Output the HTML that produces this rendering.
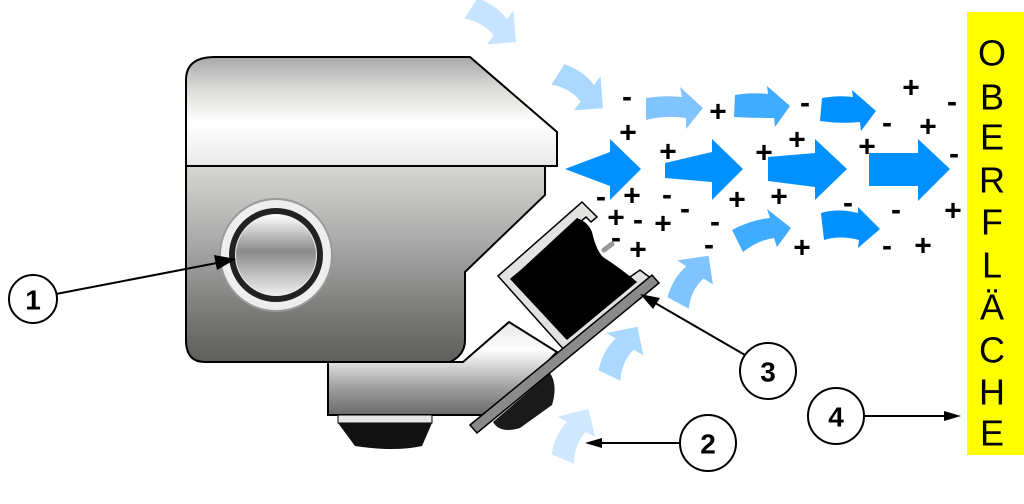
<!DOCTYPE html>
<html><head><meta charset="utf-8"><style>body{margin:0;background:#fff}svg{display:block}</style></head><body>
<svg width="1024" height="504" viewBox="0 0 1024 504" xmlns="http://www.w3.org/2000/svg" font-family="Liberation Sans, sans-serif">
<defs>
<linearGradient id="gt" x1="0" y1="0" x2="0" y2="1">
<stop offset="0" stop-color="#a9a7aa"/><stop offset="0.3" stop-color="#dcdcd8"/><stop offset="0.6" stop-color="#ffffff"/><stop offset="0.85" stop-color="#f2f2f2"/><stop offset="1" stop-color="#e8e8e8"/></linearGradient>
<linearGradient id="gb" x1="0" y1="0" x2="0" y2="1">
<stop offset="0" stop-color="#d6d6d2"/><stop offset="0.4" stop-color="#a8a8a8"/><stop offset="0.75" stop-color="#7a7a78"/><stop offset="1" stop-color="#5e5e5c"/></linearGradient>
<linearGradient id="gl" x1="0" y1="0" x2="0" y2="1">
<stop offset="0" stop-color="#e6e6e6"/><stop offset="0.3" stop-color="#ffffff"/><stop offset="0.7" stop-color="#a0a0a0"/><stop offset="1" stop-color="#6a6a6a"/></linearGradient>
<linearGradient id="gr" x1="0" y1="0" x2="0" y2="1">
<stop offset="0" stop-color="#ffffff"/><stop offset="0.45" stop-color="#8a8a8a"/><stop offset="1" stop-color="#eeeeee"/></linearGradient>
<path id="ca" d="M0,6 Q20,-2 36,2 L35,-9 L58,13 L38,34 L37,23 Q20,20 4,30 Z"/>
</defs>
<!-- top block -->
<path d="M186,80 Q186,57 215,57 L470,57 L557,132 L557,166 L186,166 Z" fill="url(#gt)" stroke="#000" stroke-width="2"/>
<!-- lower body -->
<path d="M186,166 L545,166 L545,195 L465,272 L465,340 Q465,355 450,362 L205,362 Q186,362 186,340 Z" fill="url(#gb)" stroke="#000" stroke-width="2"/>
<!-- ring -->
<circle cx="276" cy="255" r="56" fill="#eee" stroke="#999" stroke-width="2"/>
<circle cx="276" cy="255" r="44" fill="none" stroke="#222" stroke-width="6"/>
<circle cx="276" cy="255" r="40" fill="url(#gr)"/>
<!-- lower piece -->
<path d="M328,362 L463,362 L509,322 L557,352 L495,415 L328,415 Z" fill="url(#gl)" stroke="#000" stroke-width="2"/>
<rect x="338" y="415" width="94" height="8" fill="#e8e8e8" stroke="#000" stroke-width="1"/>
<path d="M338,423 L432,423 L422,446 Q395,452 355,446 Z" fill="#111"/>
<path d="M493,422 L550,373 Q558,385 552,405 L520,428 Q500,434 493,422 Z" fill="#1a1a1a"/>
<!-- frame -->
<path d="M498,276 L582,202 L597,217 L591,222 L586,217 L511,279 L566,338 L634,281 L630,277 L640,270 L652,279 L566,352 Z" fill="#e2e2e0" stroke="#000" stroke-width="1.5"/>
<path d="M511,279 L577,218 Q588,222 592,232 Q596,250 603,257 Q620,268 637,282 L567,340 Z" fill="#000"/>
<path d="M604,250 l8,-6" stroke="#999" stroke-width="5" stroke-linecap="round"/>
<!-- plate -->
<path d="M470,425 L652,275 L659,283 L477,433 Z" fill="#8a8a8a" stroke="#000" stroke-width="1.5"/>
<!-- light curved arrows -->
<use href="#ca" transform="translate(495,22) rotate(42) translate(-29,-12)" fill="#c6e4ff"/>
<use href="#ca" transform="translate(582,88) rotate(42) translate(-29,-12)" fill="#aad8ff"/>
<use href="#ca" transform="translate(690,278) rotate(-52) translate(-29,-12)" fill="#80c4ff"/>
<use href="#ca" transform="translate(620,350) rotate(-55) translate(-29,-12)" fill="#aad8ff"/>
<use href="#ca" transform="translate(572,433) rotate(-58) translate(-29,-12)" fill="#cfe8ff"/>
<!-- top row arrows -->
<path d="M646,98 Q665,95 682,97 L680,87 L703,108 L686,129 L686,118 Q665,115 646,120 Z" fill="#80c4ff"/>
<path d="M735,95 Q752,92 768,94 L767,86 L790,106 L775,127 L774,118 Q755,118 734,117 Z" fill="#40acff"/>
<path d="M822,98 Q838,95 853,97 L852,90 L876,111 L861,131 L860,122 Q840,124 820,121 Z" fill="#0090ff"/>
<!-- main row arrows -->
<path d="M565,169 L610,152 L610,139 L641,169 L610,200 L610,186 Z" fill="#0090ff"/>
<path d="M665,163 L712,152 L712,139 L743,169 L712,200 L712,182 L665,178 Z" fill="#0090ff"/>
<path d="M768,157 L815,153 L815,139 L847,169 L815,200 L815,187 L768,181 Z" fill="#0090ff"/>
<path d="M869,153 L918,153 L918,139 L950,169 L918,201 L918,186 L869,186 Z" fill="#0090ff"/>
<!-- bottom row arrows -->
<path d="M732,230 Q750,220 770,218 L767,209 L791,228 L777,247 L774,238 Q758,240 743,252 Z" fill="#40acff"/>
<path d="M821,213 Q838,208 858,213 L858,207 L880,229 L858,248 L859,240 Q840,235 824,240 Z" fill="#0090ff"/>
<!-- charges -->
<g font-size="30" font-weight="bold" fill="#000" text-anchor="middle" dominant-baseline="central">
<text x="627" y="97">-</text><text x="628" y="133">+</text><text x="668" y="152">+</text><text x="718" y="112">+</text>
<text x="805" y="103">-</text><text x="764" y="153">+</text><text x="797" y="140">+</text><text x="911" y="88">+</text>
<text x="952" y="102">-</text><text x="887" y="123">-</text><text x="928" y="127">+</text><text x="867" y="147">+</text>
<text x="954" y="154">-</text><text x="601" y="197">-</text><text x="632" y="196">+</text><text x="667" y="195">-</text>
<text x="685" y="209">-</text><text x="737" y="200">+</text><text x="779" y="197">+</text><text x="616" y="218">+</text>
<text x="638" y="220">-</text><text x="663" y="224">+</text><text x="715" y="222">-</text><text x="616" y="238">-</text>
<text x="638" y="250">+</text><text x="709" y="245">-</text><text x="802" y="248">+</text><text x="848" y="203">-</text>
<text x="896" y="210">-</text><text x="953" y="211">+</text><text x="887" y="246">-</text><text x="923" y="246">+</text>
</g>
<!-- yellow surface -->
<rect x="967" y="12" width="57" height="443" fill="#ffff00"/>
<g font-size="36" fill="#000" text-anchor="middle" dominant-baseline="central">
<text x="992" y="53">O</text><text x="992" y="97">B</text><text x="992" y="137">E</text><text x="992" y="180">R</text><text x="992" y="222">F</text><text x="992" y="265">L</text><text x="992" y="307">Ä</text><text x="992" y="350">C</text><text x="992" y="392">H</text><text x="992" y="433">E</text>
</g>
<!-- callouts -->
<g stroke="#000" stroke-width="2" fill="#fff">
<line x1="56" y1="294" x2="222" y2="262"/>
<line x1="745" y1="355" x2="650" y2="300"/>
<line x1="680" y1="443" x2="595" y2="443"/>
<line x1="864" y1="416" x2="945" y2="416"/>
<circle cx="33" cy="299" r="24"/><circle cx="768" cy="371" r="28"/><circle cx="708" cy="443" r="28"/><circle cx="836" cy="416" r="28"/>
</g>
<g fill="#000">
<path d="M236,259 L214,255 L217,270 Z"/>
<path d="M640,294 L660,298 L653,309 Z"/>
<path d="M585,443 L602,438 L602,448 Z"/>
<path d="M961,416 L944,411 L944,421 Z"/>
</g>
<g font-size="28" font-weight="bold" text-anchor="middle" dominant-baseline="central" fill="#000">
<text x="33" y="300">1</text><text x="768" y="372">3</text><text x="708" y="444">2</text><text x="836" y="417">4</text>
</g>
</svg>
</body></html>
